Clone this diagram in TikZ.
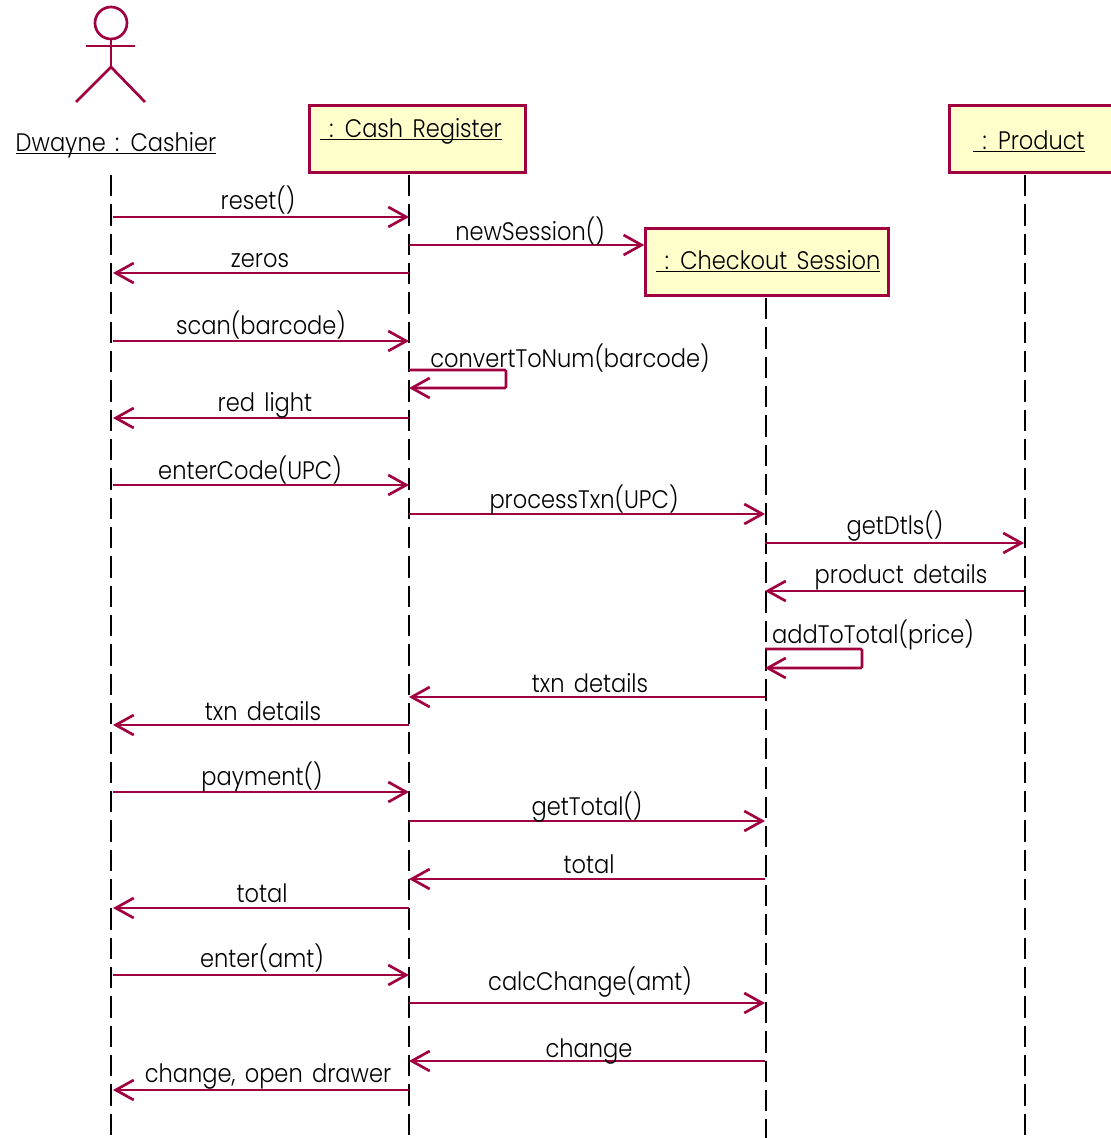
\documentclass[tikz,border=0pt]{standalone}
\usepackage{fontspec}
\setmainfont{Poppins}[UprightFont=* Light,FakeStretch=0.89,WordSpace=1.5]
\usetikzlibrary{arrows.meta}
\definecolor{umlred}{RGB}{160,0,64}
\definecolor{umlyellow}{RGB}{255,255,204}
\newcommand{\uname}[1]{\setbox0=\hbox{#1}\copy0\kern-\wd0\rule[-2.6pt]{\wd0}{1.3pt}}

\begin{document}
\begin{tikzpicture}[x=0.75pt,y=-0.75pt,font=\fontsize{19}{22}\selectfont]
\tikzstyle{actor line}=[draw=umlred,line width=2pt]
\tikzstyle{object}=[rectangle,draw=umlred,fill=umlyellow,line width=2pt,inner sep=0,minimum height=50pt]
\tikzstyle{lifeline}=[black,line width=2.2pt,dash pattern=on 16pt off 6pt]
\tikzstyle{msg}=[draw=umlred,line width=2pt,-{Straight Barb[length=13.5pt,width=15pt,line width=2pt]}]
\tikzstyle{self}=[msg,rounded corners=1pt]
\tikzstyle{txt}=[anchor=base,inner sep=0]
\useasboundingbox (0,0) rectangle (1110,1138);
% actor
\node(head)[circle,actor line,minimum size=24pt,inner sep=0] at (111,23){};
\coordinate(hip) at (111,67);
\coordinate(armL) at (86,46);
\coordinate(armR) at (135,46);
\coordinate(legL) at (76,102);
\coordinate(legR) at (145,102);
\draw[actor line] (head.south) -- (hip);
\draw[actor line] (armL) -- (armR);
\draw[actor line] (legL) -- (hip) -- (legR);
\node(dwayne)[txt] at (116,151){\uname{Dwayne : Cashier}};
% objects
\node(register)[object,minimum width=162pt] at (417.5,139){};
\node(registerName)[txt] at (411,137){\uname{\ : Cash Register}};
\node(product)[object,minimum width=130pt] at (1036,139){};
\node(productName)[txt] at (1029,149){\uname{\ : Product}};
\node(session)[object,minimum width=182pt] at (767,262){};
\node(sessionName)[txt] at (768,269){\uname{\ : Checkout Session}};
% lifelines
\coordinate(top1) at (111,175);
\coordinate(end1) at (111,1138);
\coordinate(top2) at (409,175);
\coordinate(end2) at (409,1138);
\coordinate(top3) at (766,298);
\coordinate(end3) at (766,1138);
\coordinate(top4) at (1025,175);
\coordinate(end4) at (1025,1138);
\draw[lifeline] (top1) -- (end1);
\draw[lifeline] (top2) -- (end2);
\draw[lifeline] (top3) -- (end3);
\draw[lifeline] (top4) -- (end4);
% message ends
\coordinate(a) at (113,0);
\coordinate(b) at (409,0);
\coordinate(c) at (765,0);
\coordinate(d) at (1024,0);
% messages
\draw[msg] (a |- 0,217) -- (b |- 0,217);
\node(reset)[txt] at (258,209){reset()};
\draw[msg] (b |- 0,245) -- (session.west |- 0,245);
\node(newSession)[txt] at (530,240){newSession()};
\draw[msg] (b |- 0,273) -- (a |- 0,273);
\node(zeros)[txt] at (260,267){zeros};
\draw[msg] (a |- 0,341) -- (b |- 0,341);
\node(scan)[txt] at (261,334){scan(barcode)};
\draw[self] (b |- 0,370) -| (506,388) -- (b |- 0,388);
\node(convert)[txt] at (570,367){convertToNum(barcode)};
\draw[msg] (b |- 0,418) -- (a |- 0,418);
\node(redLight)[txt] at (265,411){red light};
\draw[msg] (a |- 0,485) -- (b |- 0,485);
\node(enterCode)[txt] at (250,479){enterCode(UPC)};
\draw[msg] (b |- 0,514) -- (c |- 0,514);
\node(processTxn)[txt] at (584,508){processTxn(UPC)};
\draw[msg] (c |- 0,543) -- (d |- 0,543);
\node(getDtls)[txt] at (895,534){getDtls()};
\draw[msg] (d |- 0,591) -- (c |- 0,591);
\node(details)[txt] at (901,583){product details};
\draw[self] (c |- 0,649) -| (862,668) -- (c |- 0,668);
\node(addToTotal)[txt] at (873,643){addToTotal(price)};
\draw[msg] (c |- 0,697) -- (b |- 0,697);
\node(txnA)[txt] at (590,692){txn details};
\draw[msg] (b |- 0,725) -- (a |- 0,725);
\node(txnB)[txt] at (263,720){txn details};
\draw[msg] (a |- 0,792) -- (b |- 0,792);
\node(payment)[txt] at (262,785){payment()};
\draw[msg] (b |- 0,821) -- (c |- 0,821);
\node(getTotal)[txt] at (587,815){getTotal()};
\draw[msg] (c |- 0,879) -- (b |- 0,879);
\node(totalA)[txt] at (589,873){total};
\draw[msg] (b |- 0,908) -- (a |- 0,908);
\node(totalB)[txt] at (262,902){total};
\draw[msg] (a |- 0,975) -- (b |- 0,975);
\node(enter)[txt] at (262,967){enter(amt)};
\draw[msg] (b |- 0,1003) -- (c |- 0,1003);
\node(calcChange)[txt] at (590,990){calcChange(amt)};
\draw[msg] (c |- 0,1061) -- (b |- 0,1061);
\node(changeA)[txt] at (589,1057){change};
\draw[msg] (b |- 0,1090) -- (a |- 0,1090);
\node(changeB)[txt] at (268,1082){change, open drawer};
\end{tikzpicture}
\end{document}
